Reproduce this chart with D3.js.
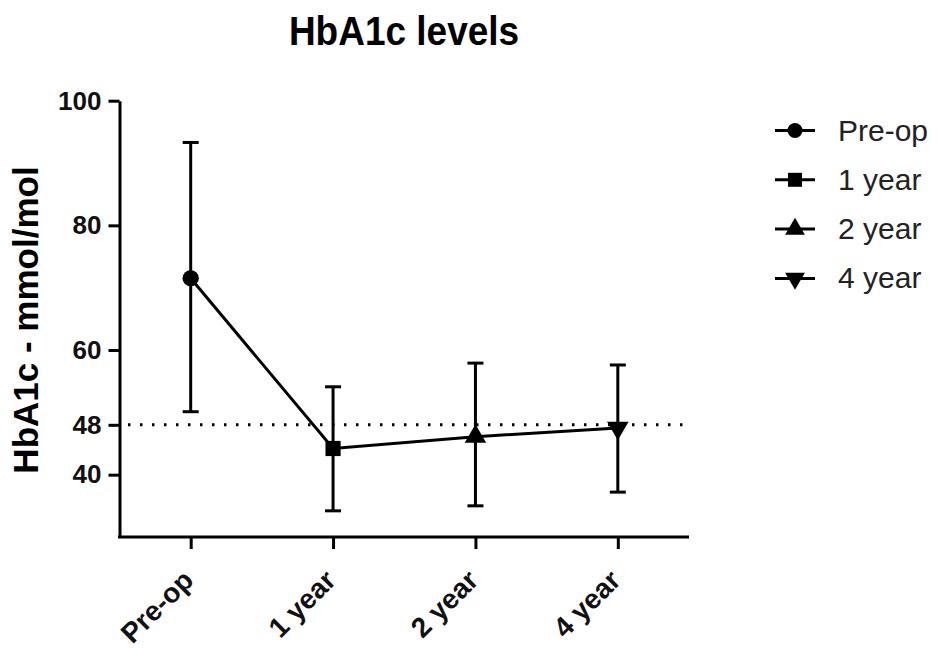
<!DOCTYPE html>
<html>
<head>
<meta charset="utf-8">
<script src="https://cdn.jsdelivr.net/npm/d3@7"></script>
<style>
  html, body { margin: 0; padding: 0; background: #fff; }
  svg { display: block; font-family: "Liberation Sans", Arial, sans-serif; }
</style>
</head>
<body>
<svg id="chart" width="937" height="650"></svg>
<script>
const categories = ["Pre-op", "1 year", "2 year", "4 year"];
const meanValues = [71.5, 44.2, 46.1, 47.5];
const upperValues = [93.3, 54.1, 57.9, 57.6];
const lowerValues = [50.1, 34.2, 35.0, 37.2];
const yTickValues = [40, 48, 60, 80, 100];
const referenceValue = 48;
const symbolTypes = [d3.symbolCircle, d3.symbolSquare, d3.symbolTriangle, "triangleDown"];

const svg = d3.select("#chart");
const x0 = 119.5, x1 = 689, yTop = 100.7, yBot = 537;

const x = d3.scalePoint().domain(categories).range([x0, x1]).padding(0.5);
const y = d3.scaleLinear().domain([30, 100]).range([yBot, yTop]);

function symbolPath(type, size) {
  if (type === "triangleDown") {
    return d3.symbol().type(d3.symbolTriangle).size(size)();
  }
  return d3.symbol().type(type).size(size)();
}
function symbolTransform(type) {
  return type === "triangleDown" ? " rotate(180)" : "";
}
const symSize = [210, 230, 200, 200];

// Title
svg.append("text")
  .attr("transform", "translate(404,45) scale(1,1.12)")
  .attr("text-anchor", "middle")
  .attr("font-weight", "bold")
  .attr("font-size", 37)
  .text("HbA1c levels");

// Y axis
const yAxis = d3.axisLeft(y).tickValues(yTickValues).tickSize(11).tickSizeOuter(0).tickPadding(7);
const gy = svg.append("g").attr("transform", `translate(${x0},0)`).call(yAxis);
gy.selectAll("path.domain").attr("stroke", "#000").attr("stroke-width", 3);
gy.selectAll(".tick line").attr("stroke", "#000").attr("stroke-width", 3);
gy.selectAll(".tick text").attr("font-size", 26).attr("font-weight", "bold").attr("fill", "#111").attr("font-family", "Liberation Sans, Arial, sans-serif");

// X axis
const xAxis = d3.axisBottom(x).tickSize(12).tickSizeOuter(0).tickPadding(6);
const gx = svg.append("g").attr("transform", `translate(0,${yBot})`).call(xAxis);
gx.selectAll("path.domain").attr("stroke", "#000").attr("stroke-width", 3)
  .attr("d", `M${x0 - 1.5},0H${x1}`);
gx.selectAll(".tick line").attr("stroke", "#000").attr("stroke-width", 3);
gx.selectAll(".tick text")
  .attr("font-size", 28).attr("font-weight", "bold").attr("fill", "#111")
  .attr("font-family", "Liberation Sans, Arial, sans-serif")
  .attr("text-anchor", "end")
  .attr("dy", "0.35em")
  .attr("transform", "translate(-3,38) rotate(-45)")
  .attr("y", 0).attr("x", 0);

// Y axis title
svg.append("text")
  .attr("transform", `translate(38,320) rotate(-90)`)
  .attr("text-anchor", "middle")
  .attr("font-weight", "bold")
  .attr("font-size", 35)
  .text("HbA1c - mmol/mol");

// Reference dotted line
svg.append("line")
  .attr("x1", 128).attr("x2", 692)
  .attr("y1", y(referenceValue)).attr("y2", y(referenceValue))
  .attr("stroke", "#000").attr("stroke-width", 3)
  .attr("stroke-dasharray", "2.5,9.5");

const data = categories.map((c, i) => ({ c, m: meanValues[i], hi: upperValues[i], lo: lowerValues[i], i }));

// Error bars
const eb = svg.append("g");
data.forEach(d => {
  const cx = x(d.c);
  eb.append("line").attr("x1", cx).attr("x2", cx).attr("y1", y(d.hi)).attr("y2", y(d.lo))
    .attr("stroke", "#000").attr("stroke-width", 3);
  [d.hi, d.lo].forEach(v => {
    eb.append("line").attr("x1", cx - 8).attr("x2", cx + 8).attr("y1", y(v)).attr("y2", y(v))
      .attr("stroke", "#000").attr("stroke-width", 3);
  });
});

// Connecting line
svg.append("path")
  .datum(data)
  .attr("fill", "none").attr("stroke", "#000").attr("stroke-width", 3)
  .attr("d", d3.line().x(d => x(d.c)).y(d => y(d.m)));

// Markers
svg.append("g").selectAll("path").data(data).join("path")
  .attr("d", d => symbolPath(symbolTypes[d.i], symSize[d.i]))
  .attr("transform", d => `translate(${x(d.c)},${y(d.m)})` + symbolTransform(symbolTypes[d.i]))
  .attr("fill", "#000");

// Legend
const legend = svg.append("g");
categories.forEach((c, i) => {
  const ly = 130.5 + i * 49.3;
  legend.append("line").attr("x1", 775).attr("x2", 815).attr("y1", ly).attr("y2", ly)
    .attr("stroke", "#000").attr("stroke-width", 3);
  legend.append("path")
    .attr("d", symbolPath(symbolTypes[i], symSize[i] * 0.85))
    .attr("transform", `translate(795,${ly})` + symbolTransform(symbolTypes[i]))
    .attr("fill", "#000");
  legend.append("text")
    .attr("x", 838).attr("y", ly + 10)
    .attr("font-size", 30)
    .attr("fill", "#222")
    .text(c);
});
</script>
</body>
</html>
